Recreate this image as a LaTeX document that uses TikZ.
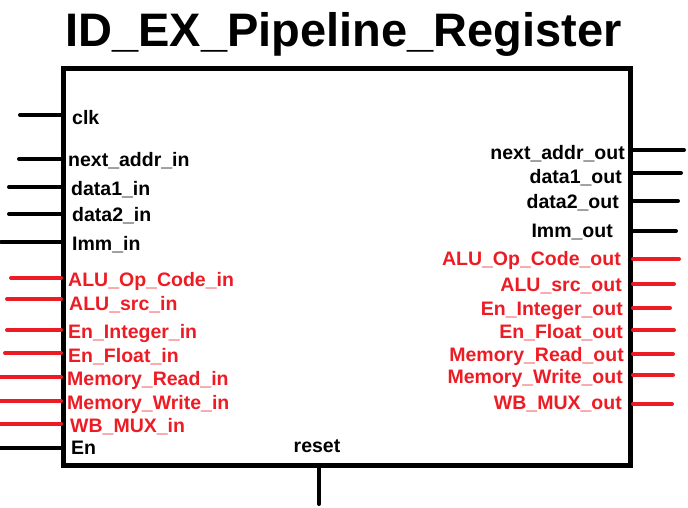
\documentclass[tikz,border=0pt]{standalone}
\usepackage{fontspec}
\setmainfont{Liberation Sans}
\usetikzlibrary{positioning}
\definecolor{pinred}{RGB}{237,28,36}

\begin{document}
\begin{tikzpicture}[x=1pt, y=-1pt, font=\fontsize{19.5}{22}\selectfont\bfseries,
  wire/.style={line width=4pt, line cap=round},
  pin/.style={inner sep=0pt}]
  \useasboundingbox (0,0) rectangle (688,508);
  \node[font=\fontsize{47}{50}\selectfont\bfseries, anchor=base] (title) at (343.5,47) {ID\_EX\_Pipeline\_Register};
  \node[draw, line width=5pt, minimum width=567pt, minimum height=397pt, inner sep=0pt, anchor=north west] (reg) at (61,66) {};

  % inputs
  \foreach \name/\ty/\tx/\wy/\wx/\col [count=\i] in {
    clk/118/72/115/20/black,
    next\_addr\_in/160/68/159/19/black,
    data1\_in/188/71/187/9/black,
    data2\_in/214/72/214/9/black,
    Imm\_in/243/72/242/1/black,
    ALU\_Op\_Code\_in/279/68/278/11/pinred,
    ALU\_src\_in/303/69/299/7/pinred,
    En\_Integer\_in/331/68/330/7/pinred,
    En\_Float\_in/355/68/353/5/pinred,
    Memory\_Read\_in/378/67/377/0/pinred,
    Memory\_Write\_in/402/67/401/0/pinred,
    WB\_MUX\_in/425/70/424/0/pinred,
    En/447/71/448/0/black} {
    \node[pin, anchor=base west, text=\col] (in-\i) at (\tx,\ty+7) {\name};
    \coordinate (win-\i) at (\wx,\wy);
    \draw[wire, \col] (win-\i) -- (win-\i -| reg.west);
  }

  % outputs
  \foreach \name/\ty/\tx/\wy/\wx/\col [count=\i] in {
    next\_addr\_out/153/625/150/684/black,
    data1\_out/176/622/173/681/black,
    data2\_out/201/619/201/678/black,
    Imm\_out/230/613/231/676/black,
    ALU\_Op\_Code\_out/258/621/259/679/pinred,
    ALU\_src\_out/284/622/284/674/pinred,
    En\_Integer\_out/308/623/308/670/pinred,
    En\_Float\_out/331/623/330/674/pinred,
    Memory\_Read\_out/354/624/354/673/pinred,
    Memory\_Write\_out/376/623/375/673/pinred,
    WB\_MUX\_out/402/622/404/672/pinred} {
    \node[pin, anchor=base east, text=\col] (out-\i) at (\tx,\ty+7) {\name};
    \coordinate (wout-\i) at (\wx,\wy);
    \draw[wire, \col] (wout-\i -| reg.east) -- (wout-\i);
  }

  % reset
  \node[pin, anchor=base] (rst) at (317,452) {reset};
  \coordinate (wrst) at (319,504);
  \draw[wire] (wrst |- reg.south) -- (wrst);
\end{tikzpicture}
\end{document}
